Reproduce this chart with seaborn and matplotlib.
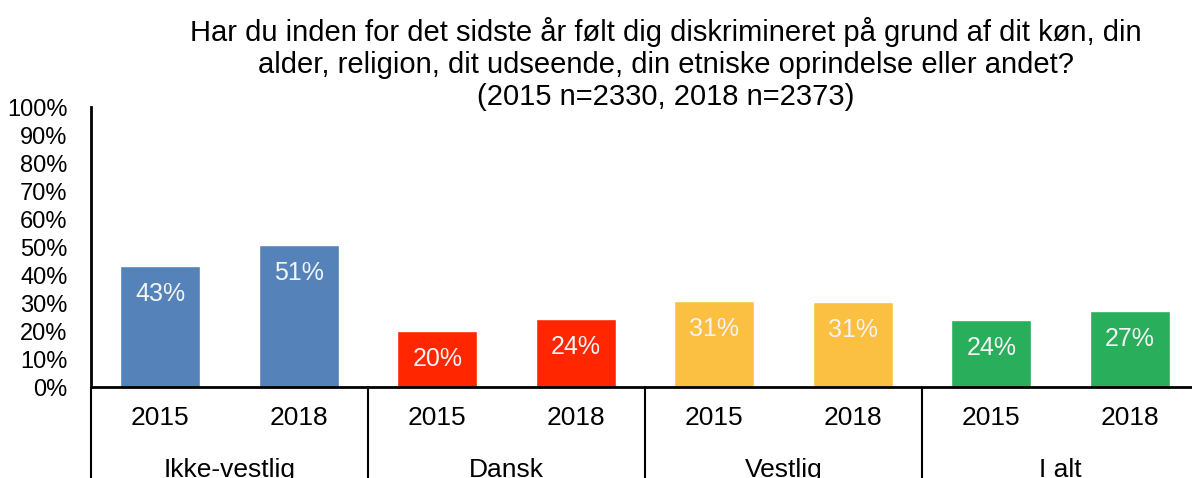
import matplotlib
matplotlib.use('Agg')
import matplotlib.pyplot as plt
import matplotlib.transforms as mtransforms
import seaborn as sns
import pandas as pd

sns.set_style('white')
plt.rcParams['font.family'] = ['Liberation Sans', 'DejaVu Sans']
plt.rcParams['text.color'] = 'black'
plt.rcParams['ytick.color'] = 'black'

# data
grupper = ['Ikke-vestlig', 'Dansk', 'Vestlig', 'I alt']
aar = ['2015', '2018']
andel = [43.2, 50.7, 20.0, 24.3, 30.7, 30.4, 23.9, 27.1]
etiketter = ['43%', '51%', '20%', '24%', '31%', '31%', '24%', '27%']
farver = ['#5482B9', '#FF2600', '#FBBF42', '#29AE5B']

rows = []
i = 0
for g in grupper:
    for a in aar:
        rows.append({'pos': f'{g} {a}', 'gruppe': g, 'aar': a, 'andel': andel[i]})
        i += 1
df = pd.DataFrame(rows)

fig = plt.figure(figsize=(11.92, 4.78), dpi=100)
W, H = 1192, 478
ax = fig.add_axes([91 / W, 1 - 387 / H, 1108 / W, 280 / H])

sns.barplot(data=df, x='pos', y='andel', hue='gruppe', palette=farver,
            dodge=False, width=0.58, legend=False, ax=ax, saturation=1)

ax.set_xlim(-0.5, len(df) - 0.5)
ax.set_ylim(0, 100)
ax.set_yticks(range(0, 101, 10))
ax.set_yticklabels([f'{t}%' for t in range(0, 101, 10)], fontsize=17)
ax.tick_params(axis='y', length=0, pad=17)
ax.set_xticks([])
ax.set_xlabel('')
ax.set_ylabel('')
for s in ['top', 'right']:
    ax.spines[s].set_visible(False)
for s in ['left', 'bottom']:
    ax.spines[s].set_linewidth(2)
    ax.spines[s].set_color('black')

# value labels inside bars
bars = sorted(ax.patches, key=lambda p: p.get_x())
for p, lab in zip(bars, etiketter):
    ax.text(p.get_x() + p.get_width() / 2, p.get_height() - 10, lab,
            ha='center', va='center', fontsize=18, color='#F4F4F4')

# multi-level category axis
trans = mtransforms.blended_transform_factory(ax.transData, ax.transAxes)
for j, row in df.iterrows():
    ax.text(j, -0.111, row['aar'], transform=trans, ha='center', va='center',
            fontsize=19, clip_on=False)
for k, g in enumerate(grupper):
    ax.text(2 * k + 0.5, -0.295, g, transform=trans, ha='center', va='center',
            fontsize=19, clip_on=False)
for k in range(len(grupper) + 1):
    ax.plot([2 * k - 0.5, 2 * k - 0.5], [0, -0.4], transform=trans,
            color='black', lw=1.5, clip_on=False)

fig.text(666 / W, 1 - 64 / H,
         'Har du inden for det sidste år følt dig diskrimineret på grund af dit køn, din\n'
         'alder, religion, dit udseende, din etniske oprindelse eller andet?\n'
         '(2015 n=2330, 2018 n=2373)',
         ha='center', va='center', fontsize=21, linespacing=1.2)

fig.savefig('out.png', dpi=100)
